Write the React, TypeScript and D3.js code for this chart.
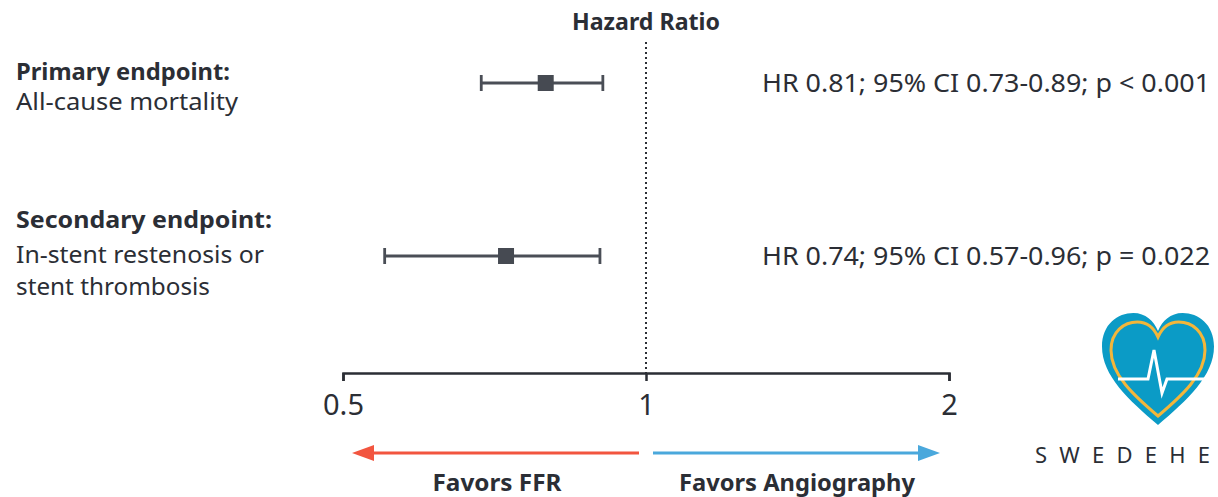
import React, {useEffect, useRef} from 'react';
import * as d3 from 'd3';

// endpoint rows (positions of marks, HR scale)
const labelsBold = ['Primary endpoint:', 'Secondary endpoint:'];
const labelsPlain = [['All-cause mortality'], ['In-stent restenosis or', 'stent thrombosis']];
const hrPoint = [0.795, 0.726];
const ciLow = [0.686, 0.55];
const ciHigh = [0.906, 0.9];
const statText = [
  'HR 0.81; 95% CI 0.73-0.89; p < 0.001',
  'HR 0.74; 95% CI 0.57-0.96; p = 0.022',
];
const tickValues = [0.5, 1, 2];
const tickLabels = ['0.5', '1', '2'];

const FONT = "'Noto Sans', 'Open Sans', sans-serif";
const INK = '#2b2e35';

export default function App() {
  const el = useRef<SVGSVGElement>(null);

  useEffect(() => {
    const svg = d3.select(el.current);
    svg.selectAll('*').remove();

    const x = d3.scaleLog().domain([0.5, 2]).range([343, 949]);
    const rowY = [83, 256];
    const axisY = 373;

    svg.append('text')
      .attr('x', x(1)).attr('y', 30)
      .attr('text-anchor', 'middle')
      .attr('font-family', FONT).attr('font-weight', 700).attr('font-size', 23)
      .attr('textLength', 148).attr('lengthAdjust', 'spacingAndGlyphs')
      .attr('fill', INK)
      .text('Hazard Ratio');

    // reference line
    svg.append('line')
      .attr('x1', x(1)).attr('x2', x(1))
      .attr('y1', 42).attr('y2', axisY)
      .attr('stroke', INK).attr('stroke-width', 2)
      .attr('stroke-dasharray', '2 3');

    // left labels
    const labelLineY = [[80, 110], [228, 263, 295]];
    const boldW = [214, 256];
    const plainW = [[222], [248, 194]];
    labelsBold.forEach((b, i) => {
      svg.append('text')
        .attr('x', 16).attr('y', labelLineY[i][0])
        .attr('font-family', FONT).attr('font-weight', 700).attr('font-size', 23)
        .attr('textLength', boldW[i]).attr('lengthAdjust', 'spacingAndGlyphs')
        .attr('fill', INK).text(b);
      labelsPlain[i].forEach((t, j) => {
        svg.append('text')
          .attr('x', 16).attr('y', labelLineY[i][j + 1])
          .attr('font-family', FONT).attr('font-size', 24)
          .attr('textLength', plainW[i][j]).attr('lengthAdjust', 'spacingAndGlyphs')
          .attr('fill', INK).text(t);
      });
    });

    // right stats
    statText.forEach((t, i) => {
      svg.append('text')
        .attr('x', 1210).attr('y', rowY[i] + 9)
        .attr('text-anchor', 'end')
        .attr('font-family', FONT).attr('font-size', 25)
        .attr('textLength', 448).attr('lengthAdjust', 'spacingAndGlyphs')
        .attr('fill', INK).text(t);
    });

    // CI bars
    const rows = svg.append('g').selectAll('g')
      .data(hrPoint.map((d, i) => ({hr: d, lo: ciLow[i], hi: ciHigh[i], y: rowY[i]})))
      .join('g');
    rows.append('line')
      .attr('x1', d => x(d.lo)).attr('x2', d => x(d.hi))
      .attr('y1', d => d.y).attr('y2', d => d.y)
      .attr('stroke', '#4a4e56').attr('stroke-width', 2.8);
    rows.append('line')
      .attr('x1', d => x(d.lo)).attr('x2', d => x(d.lo))
      .attr('y1', d => d.y - 8).attr('y2', d => d.y + 8)
      .attr('stroke', '#4a4e56').attr('stroke-width', 2.8);
    rows.append('line')
      .attr('x1', d => x(d.hi)).attr('x2', d => x(d.hi))
      .attr('y1', d => d.y - 8).attr('y2', d => d.y + 8)
      .attr('stroke', '#4a4e56').attr('stroke-width', 2.8);
    rows.append('rect')
      .attr('x', d => x(d.hr) - 8).attr('y', d => d.y - 8)
      .attr('width', 16).attr('height', 16)
      .attr('fill', '#464a52');

    // axis
    const axis = d3.axisBottom(x)
      .tickValues(tickValues)
      .tickFormat((_, i) => tickLabels[i])
      .tickSize(8)
      .tickSizeOuter(8);
    const ga = svg.append('g').attr('transform', `translate(0,${axisY})`).call(axis);
    ga.select('.domain').attr('stroke', INK).attr('stroke-width', 2.5);
    ga.selectAll('.tick line').attr('stroke', INK).attr('stroke-width', 2.5);
    ga.selectAll('.tick text')
      .attr('y', 42).attr('dy', 0)
      .attr('font-family', FONT).attr('font-size', 29)
      .attr('fill', INK);

    // favors arrows
    const arrowY = 453;
    const red = '#f2553f';
    const blue = '#4aa8dc';
    const lx0 = x(0.5) + 9, lx1 = x(1) - 7;
    svg.append('line')
      .attr('x1', lx0 + 16).attr('x2', lx1).attr('y1', arrowY).attr('y2', arrowY)
      .attr('stroke', red).attr('stroke-width', 3);
    svg.append('path')
      .attr('d', `M${lx0},${arrowY}L${lx0 + 22},${arrowY - 8}L${lx0 + 22},${arrowY + 8}Z`)
      .attr('fill', red);
    const rx0 = x(1) + 7, rx1 = x(2) - 9;
    svg.append('line')
      .attr('x1', rx0).attr('x2', rx1 - 16).attr('y1', arrowY).attr('y2', arrowY)
      .attr('stroke', blue).attr('stroke-width', 3);
    svg.append('path')
      .attr('d', `M${rx1},${arrowY}L${rx1 - 22},${arrowY - 8}L${rx1 - 22},${arrowY + 8}Z`)
      .attr('fill', blue);
    svg.append('text')
      .attr('x', 497).attr('y', 491)
      .attr('text-anchor', 'middle')
      .attr('font-family', FONT).attr('font-weight', 700).attr('font-size', 24)
      .attr('textLength', 129).attr('lengthAdjust', 'spacingAndGlyphs')
      .attr('fill', INK).text('Favors FFR');
    svg.append('text')
      .attr('x', 797).attr('y', 491)
      .attr('text-anchor', 'middle')
      .attr('font-family', FONT).attr('font-weight', 700).attr('font-size', 24)
      .attr('textLength', 236).attr('lengthAdjust', 'spacingAndGlyphs')
      .attr('fill', INK).text('Favors Angiography');

    // SWEDEHE logo
    const heart = (cx: number, top: number, w: number, h: number) => {
      const sx = (v: number) => cx - w / 2 + (v / 100) * w;
      const sy = (v: number) => top + (v / 100) * h;
      return `M${sx(50)},${sy(100)}` +
        `C${sx(24)},${sy(78)} ${sx(0)},${sy(56)} ${sx(0)},${sy(30)}` +
        `C${sx(0)},${sy(10)} ${sx(14)},${sy(0)} ${sx(28)},${sy(0)}` +
        `C${sx(39)},${sy(0)} ${sx(46)},${sy(7)} ${sx(50)},${sy(16)}` +
        `C${sx(54)},${sy(7)} ${sx(61)},${sy(0)} ${sx(72)},${sy(0)}` +
        `C${sx(86)},${sy(0)} ${sx(100)},${sy(10)} ${sx(100)},${sy(30)}` +
        `C${sx(100)},${sy(56)} ${sx(76)},${sy(78)} ${sx(50)},${sy(100)}Z`;
    };
    const logo = svg.append('g');
    logo.append('path').attr('d', heart(1158, 313, 112, 112)).attr('fill', '#0b9bc6');
    logo.append('path').attr('d', heart(1158, 322, 94, 94))
      .attr('fill', 'none').attr('stroke', '#f3b63a').attr('stroke-width', 3);
    logo.append('path')
      .attr('d', 'M1118,379H1148L1154,350L1162,393L1167,379H1207')
      .attr('fill', 'none').attr('stroke', '#fff').attr('stroke-width', 3)
      .attr('stroke-linejoin', 'miter');
    logo.append('text')
      .attr('x', 1035).attr('y', 463)
      .attr('font-family', FONT).attr('font-size', 22)
      .attr('textLength', 175).attr('lengthAdjust', 'spacing')
      .attr('fill', INK).text('SWEDEHE');
  }, []);

  return (
    <svg ref={el} width={1218} height={497}
      style={{position: 'absolute', left: 0, top: 0, background: '#fff'}} />
  );
}
